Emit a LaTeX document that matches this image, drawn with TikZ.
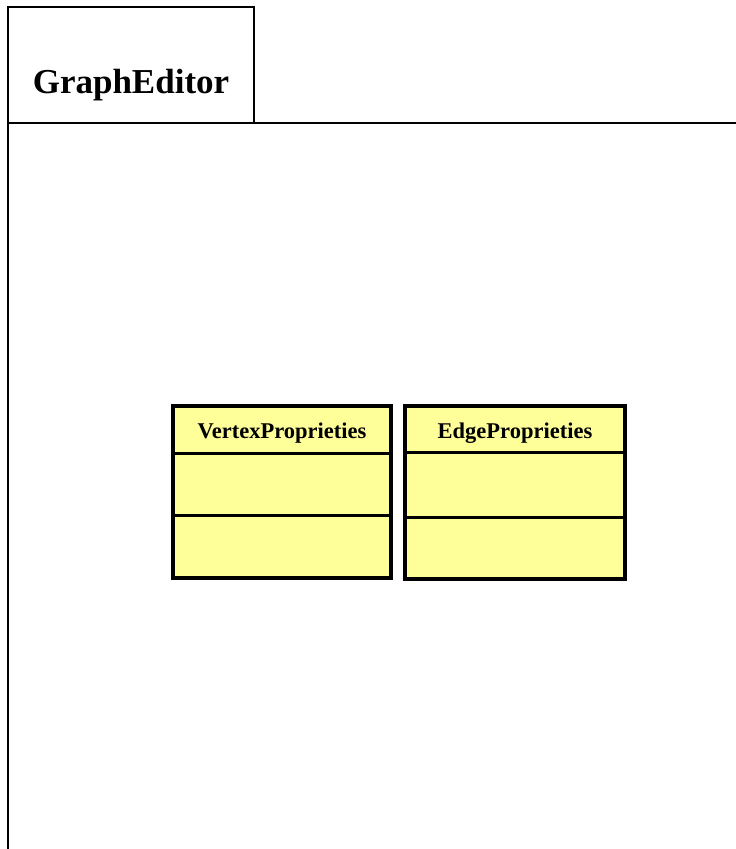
\documentclass[tikz,border=0pt]{standalone}
\usepackage{fontspec}
\setmainfont{Liberation Serif}
\usetikzlibrary{calc}
\definecolor{classyellow}{HTML}{FFFF99}

\begin{document}
\begin{tikzpicture}
[x=1pt,y=-1pt,line width=2.5pt]
\useasboundingbox (0,0) rectangle (736,849);

\draw (8,849) -- (8,7) -- (254,7) -- (254,123); %tab
\draw (8,123) -- (736,123); %frame top
\node[anchor=base] (title) at (131,93) {\fontsize{35}{35}\selectfont\bfseries GraphEditor};

\filldraw[fill=classyellow,line width=3.5pt] (173,406) rectangle (391,578); %vertex class
\draw[line width=3pt] (173,453) -- (391,453);
\draw[line width=3pt] (173,515) -- (391,515);
\node[anchor=base] (vertex) at (282,438) {\fontsize{22.5}{22.5}\selectfont\bfseries VertexProprieties};

\filldraw[fill=classyellow,line width=3.5pt] (405,406) rectangle (625,579); %edge class
\draw[line width=3pt] (405,452) -- (625,452);
\draw[line width=3pt] (405,517) -- (625,517);
\node[anchor=base] (edge) at (515,438) {\fontsize{22.5}{22.5}\selectfont\bfseries EdgeProprieties};
\end{tikzpicture}
\end{document}
